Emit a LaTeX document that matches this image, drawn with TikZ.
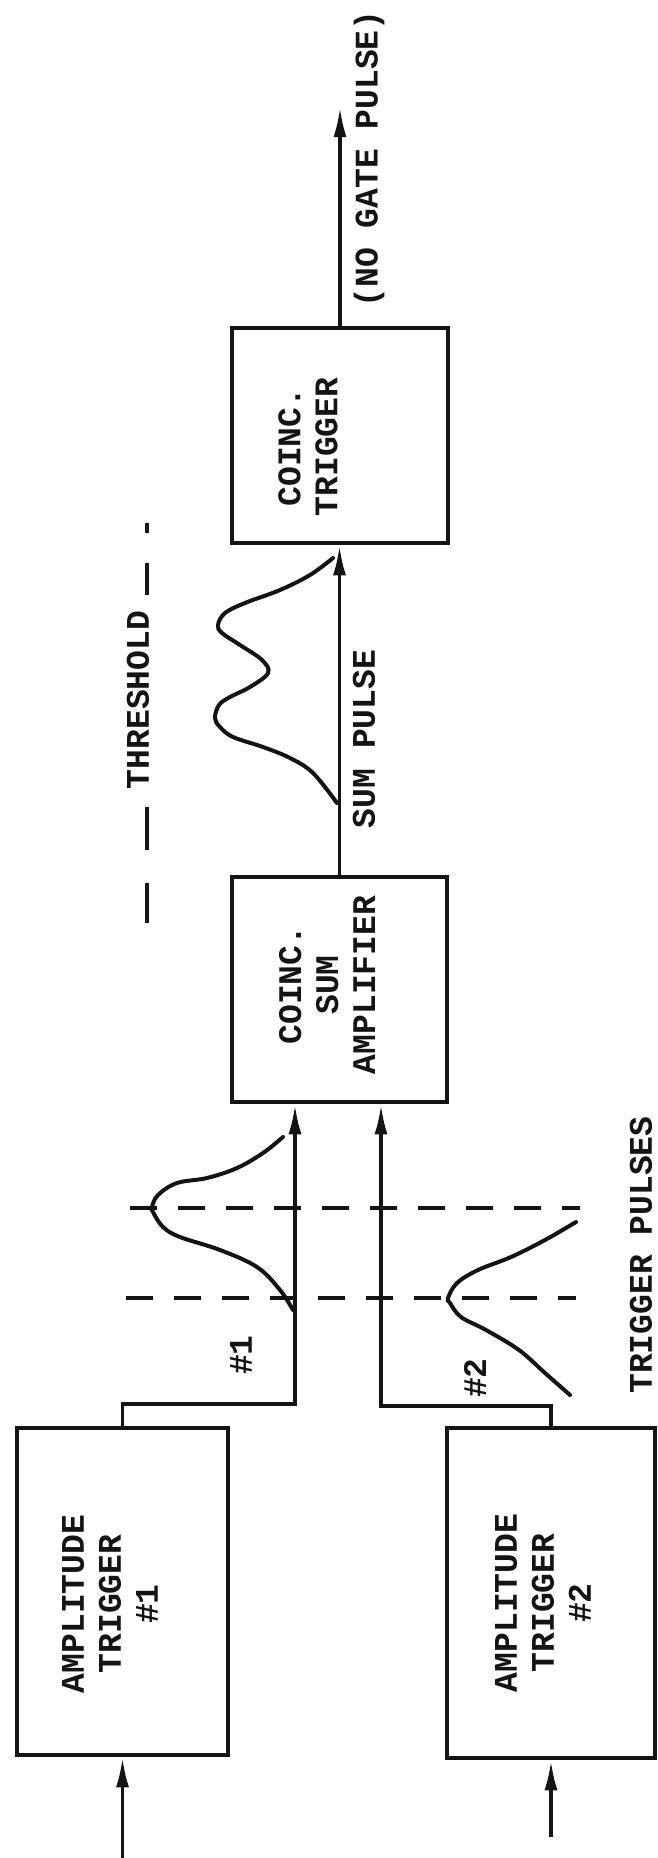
\documentclass[tikz,border=0pt]{standalone}
\usepackage{fontspec}
\newfontfamily\typerfont{Liberation Mono}
\usetikzlibrary{arrows.meta,positioning}

\definecolor{inkcol}{RGB}{20, 20, 20}

\begin{document}
\begin{tikzpicture}[x=1pt, y=-1pt,
    box/.style={draw=inkcol, line width=4.5pt, inner sep=0pt},
    wire/.style={draw=inkcol, line width=3.5pt},
    arr/.style={wire, -{Latex[length=30pt, width=13pt]}},
    pulse/.style={draw=inkcol, line width=4pt, line cap=round},
    guide/.style={draw=inkcol, line width=4pt, dash pattern=on 27pt off 21pt},
    txt/.style={text=inkcol, font=\typerfont\bfseries\fontsize{33}{37}\selectfont,
                rotate=90, align=center, inner sep=0pt}]
    \useasboundingbox (0,0) rectangle (657,1858);

    % Boxes (pixel coordinates, y running down the page)
    \node[box, minimum width=211pt, minimum height=327pt] (at1) at (122.5,1591.5) {};
    \node[box, minimum width=208pt, minimum height=330pt] (at2) at (551,1593) {};
    \node[box, minimum width=215pt, minimum height=225pt] (csa) at (339.5,989.5) {};
    \node[box, minimum width=216pt, minimum height=215pt] (ct)  at (340,435.5) {};

    % Box texts
    \node[txt] (at1text) at (110,1604) {AMPLITUDE\\TRIGGER\\\#1};
    \node[txt] (at2text) at (543,1603) {AMPLITUDE\\TRIGGER\\\#2};
    \node[txt] (csatext) at (327,985) {COINC.\\SUM\\AMPLIFIER};
    \node[txt] (cttext)  at (308,447) {COINC.\\TRIGGER};

    % Free ends
    \coordinate (in1) at (122.5,1858);
    \coordinate (in2) at (551,1837);
    \coordinate (gateout) at (340,107);

    % Connectors
    \draw[arr] (in1) -- (at1.south);
    \draw[arr] (in2) -- (at2.south);
    \draw[arr] (at1.north) -- ++(0,-22) -| ([xshift=-44.5pt]csa.south);
    \draw[arr] (at2.north) -- ++(0,-20) -| ([xshift=41.5pt]csa.south);
    \draw[arr] (csa.north) -- (csa.north |- ct.south);
    \draw[arr] (ct.north) -- (gateout);

    % Time marks across the trigger pulses
    \draw[guide] (130,1208) -- (580,1208);
    \draw[guide] (126,1298) -- (576,1298);

    % Trigger pulse #1
    \draw[pulse] plot[smooth, tension=0.6] coordinates {(293,1310) (280,1290) (257,1267)
        (220,1250) (180,1237) (163,1227) (153,1212) (152,1207) (158,1195) (177,1183)
        (207,1178) (237,1168) (263,1153) (283,1137)};
    % Trigger pulse #2
    \draw[pulse] plot[smooth, tension=0.6] coordinates {(570,1395) (545,1373) (519,1350)
        (486,1330) (461,1317) (450,1303) (448,1298) (457,1283) (478,1270) (511,1257)
        (545,1240) (576,1222)};
    % Sum pulse
    \draw[pulse] plot[smooth, tension=0.6] coordinates {(337,803) (313,773) (290,758)
        (263,747) (233,737) (220,727) (215,718) (219,705) (230,697) (250,687) (268,673)
        (262,660) (240,645) (222,633) (218,625) (225,613) (245,603) (280,590) (310,575)
        (333,558)};

    % Threshold line, broken round its label
    \draw[wire] (147,523) -- (147,533);
    \draw[wire] (147,563) -- (147,595);
    \draw[wire] (147,807) -- (147,850);
    \draw[wire] (147,883) -- (147,923);

    % Labels
    \node[txt] (gatelbl) at (369,159) {(NO GATE PULSE)};
    \node[txt] (sumlbl) at (364,739) {SUM PULSE};
    \node[txt] (thrlbl) at (138,700) {THRESHOLD};
    \node[txt] (p1lbl) at (241,1355) {\#1};
    \node[txt] (p2lbl) at (475,1378) {\#2};
    \node[txt] (trglbl) at (641,1255) {TRIGGER PULSES};

\end{tikzpicture}
\end{document}
